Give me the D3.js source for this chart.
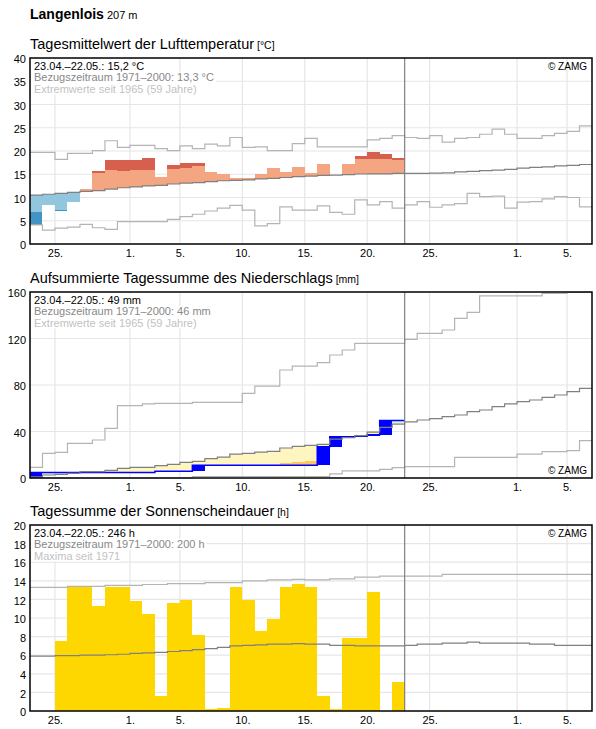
<!DOCTYPE html>
<html>
<head>
<meta charset="utf-8">
<script src="https://cdn.jsdelivr.net/npm/d3@7"></script>
<style>
  body { margin: 0; background: #fff; }
  svg { font-family: "Liberation Sans", Arial, sans-serif; }
</style>
</head>
<body>
<svg id="chart" width="596" height="729"></svg>
<script>
// ---------- data ----------
// 45 days shown (23.04. - 06.06.2024), observed values until 22.05. (30 days)
const startDate = new Date(Date.UTC(2024, 3, 23))
const nDays = 45
const xTickDates = ["2024-04-25", "2024-05-01", "2024-05-05", "2024-05-10", "2024-05-15",
                    "2024-05-20", "2024-05-25", "2024-06-01", "2024-06-05"]
const xTickLabels = ["25.", "1.", "5.", "10.", "15.", "20.", "25.", "1.", "5."]

// temperature [°C]
const tempTicks = [0, 5, 10, 15, 20, 25, 30, 35, 40]
const tempObs = [4.1, 8.4, 7.2, 9.1, 11.8, 15.6, 18.1, 18.1, 18.1, 18.6, 14.5, 17.0, 17.4, 17.4, 15.4,
                 15.05, 14.3, 14.3, 15.05, 16.3, 15.5, 16.6, 15.3, 17.2, 14.8, 17.3, 18.9, 19.8, 19.4, 18.6]
const tempHigh = [14.0, 14.2, 14.4, 14.6, 14.8, 15.3, 15.9, 15.8, 15.9, 15.9, 16.0, 16.1, 16.4, 16.7, 16.8,
                  17.0, 17.1, 17.2, 17.4, 17.5, 17.7, 17.9, 18.0, 18.1, 18.1, 18.2, 18.2, 18.2, 18.2, 18.1]
const tempLow = [6.95, 7.1, 7.3, 7.5, 7.7, 7.9, 8.1, 8.4, 8.6, 8.8, 9.0, 9.2, 9.4, 9.5, 9.7,
                 9.8, 9.9, 10.0, 10.2, 10.3, 10.5, 10.7, 10.8, 10.9, 11.0, 11.1, 11.2, 11.3, 11.3, 11.4]
const tempMean = [10.5, 10.7, 10.9, 11.1, 11.3, 11.5, 11.8, 12.1, 12.3, 12.5, 12.6, 12.9, 13.1, 13.2, 13.4,
                  13.6, 13.7, 13.8, 14.0, 14.1, 14.3, 14.5, 14.6, 14.75, 14.8, 14.9, 15.05, 15.1, 15.1, 15.2,
                  15.2, 15.2, 15.25, 15.3, 15.5, 15.6, 15.8, 15.9, 16.05, 16.3, 16.5, 16.6, 16.8, 16.9, 17.1]
const tempMax = [19.7, 19.7, 18.2, 19.5, 19.5, 20.1, 22.2, 20.8, 21.2, 21.2, 20.5, 20.1, 21.1, 20.5, 21.5,
                 21.1, 22.9, 20.8, 20.9, 20.1, 20.1, 21.6, 22.7, 20.9, 20.9, 20.9, 20.9, 22.4, 22.7, 23.3,
                 22.9, 22.7, 23.3, 21.9, 22.7, 22.9, 23.6, 24.7, 23.6, 22.7, 22.7, 23.3, 23.8, 24.2, 25.4]
const tempMin = [4.1, 3.0, 3.4, 3.65, 4.2, 3.5, 3.15, 4.8, 4.8, 4.8, 4.8, 5.3, 5.9, 6.4, 7.1,
                 7.7, 8.3, 7.3, 3.9, 4.4, 8.0, 7.3, 7.3, 8.2, 6.8, 6.4, 9.5, 8.4, 9.1, 7.7,
                 8.4, 9.1, 7.9, 8.4, 8.7, 10.9, 10.2, 10.3, 7.7, 9.0, 9.1, 9.7, 10.2, 10.0, 8.0]

// precipitation [mm], daily sums; reference values are cumulative
const precTicks = [0, 40, 80, 120, 160]
const precDaily = [4.8, 0, 0, 0, 0, 0, 0, 0, 0, 0, 1.0, 0, 0, 5.2, 0,
                   0, 0, 0, 0, 0, 0, 0, 0, 15.9, 8.5, 0, 0.6, 1.2, 12.2, 0]
const precDry = [0.3, 1.0, 1.3, 1.6, 2.0, 2.3, 2.8, 3.4, 3.8, 4.0, 4.5, 5.0, 5.6, 6.2, 7.0,
                 7.8, 8.6, 9.3, 10.2, 10.8, 13.2, 14.0, 14.9, 15.6, 17.5, 18.6, 19.8, 21.2, 23.8, 25.5]
const precMean = [0.9, 2.6, 3.2, 4.0, 5.4, 5.4, 6.6, 8.3, 9.2, 9.2, 10.6, 11.8, 13.5, 14.3, 16.6,
                  18.0, 20.5, 21.2, 22.2, 22.9, 25.8, 27.2, 28.0, 29.0, 33.4, 34.7, 36.4, 39.5, 43.5, 46.4,
                  48.3, 49.9, 51.0, 52.8, 54.2, 57.1, 58.5, 61.4, 63.7, 65.7, 67.1, 69.4, 71.4, 74.3, 77.1]
const precMax = [9.2, 21.2, 22.1, 29.8, 29.8, 32.7, 42.7, 62.2, 62.2, 63.7, 64.2, 64.2, 64.2, 65.1, 65.1,
                 65.1, 65.1, 72.8, 79.1, 79.1, 92.9, 96.3, 96.3, 99.2, 105.8, 110.1, 115.8, 115.8, 115.8, 115.8,
                 119.3, 124.4, 124.4, 127.3, 137.3, 142.5, 156.6, 156.6, 156.6, 156.6, 156.6, 158.9, 158.9, 159.7, 159.7]
const precMin = [0, 0, 0, 0, 0, 0, 0, 0, 0, 0, 0, 0, 0, 1.1, 1.1,
                 1.1, 1.1, 1.1, 1.1, 1.1, 1.1, 1.1, 1.1, 1.1, 3.5, 6.2, 6.2, 6.2, 7.5, 9.0,
                 9.7, 9.7, 9.7, 9.7, 17.8, 17.8, 17.8, 17.8, 17.8, 20.6, 20.6, 22.7, 22.7, 23.5, 32.1]

// sunshine duration [h]
const sunTicks = [0, 2, 4, 6, 8, 10, 12, 14, 16, 18, 20]
const sunObs = [0, 0, 7.5, 13.4, 13.4, 11.3, 13.3, 13.3, 11.8, 10.4, 1.6, 11.6, 11.9, 8.2, 0.2,
                0.3, 13.3, 11.9, 8.6, 9.9, 13.3, 13.7, 13.3, 1.6, 0.2, 7.9, 7.9, 12.8, 0, 3.1]
const sunMean = [5.9, 5.9, 5.95, 5.95, 6.0, 6.0, 6.05, 6.1, 6.2, 6.25, 6.3, 6.4, 6.5, 6.6, 6.7,
                 6.85, 7.0, 7.05, 7.1, 7.2, 7.2, 7.25, 7.2, 7.2, 7.05, 7.05, 7.0, 7.0, 7.0, 7.0,
                 7.05, 7.2, 7.2, 7.3, 7.3, 7.4, 7.3, 7.3, 7.3, 7.3, 7.2, 7.2, 7.05, 7.05, 7.05]
const sunMax = [13.3, 13.3, 13.3, 13.4, 13.4, 13.4, 13.5, 13.5, 13.5, 13.6, 13.6, 13.7, 13.7, 13.7, 13.8,
                13.8, 13.8, 14.0, 14.0, 14.1, 14.1, 14.15, 14.1, 14.1, 14.2, 14.2, 14.4, 14.4, 14.5, 14.5,
                14.5, 14.5, 14.5, 14.7, 14.7, 14.7, 14.7, 14.7, 14.7, 14.7, 14.7, 14.7, 14.7, 14.7, 14.7]

const tempInfo = ["23.04.\u201322.05.: 15,2 °C", "Bezugszeitraum 1971\u20132000: 13,3 °C", "Extremwerte seit 1965 (59 Jahre)"]
const precInfo = ["23.04.\u201322.05.: 49 mm", "Bezugszeitraum 1971\u20132000: 46 mm", "Extremwerte seit 1965 (59 Jahre)"]
const sunInfo = ["23.04.\u201322.05.: 246 h", "Bezugszeitraum 1971\u20132000: 200 h", "Maxima seit 1971"]

// ---------- layout ----------
const L = 30, R = 592, H = 186
const infoColors = ["#000", "#888", "#c2c2c2"]
const cMean = "#808080", cExt = "#b4b4b4"

const svg = d3.select("#chart")
const day = i => d3.utcDay.offset(startDate, i)
const x = d3.scaleUtc().domain([startDate, day(nDays)]).range([L, R])
const xTicks = xTickDates.map(d => new Date(d))

// step line over whole days
function stepPath(values, y) {
    let pts = values.map((v, i) => [x(day(i)), y(v)])
    pts.push([x(day(values.length)), y(values[values.length - 1])])
    return d3.line().curve(d3.curveStepAfter)(pts)
}

function dayRect(sel, y) {
    sel.attr("x", d => x(day(d.i)))
        .attr("width", d => x(day(d.i + 1)) - x(day(d.i)))
        .attr("y", d => y(Math.max(d.a, d.b)))
        .attr("height", d => Math.abs(y(d.a) - y(d.b)))
        .attr("fill", d => d.c)
        .attr("shape-rendering", "crispEdges")
}

function makePanel(top, max, ticks, title, unit, info, zamgBottom) {
    let y = d3.scaleLinear().domain([0, max]).range([top + H, top])
    let g = svg.append("g")

    g.append("text")
        .attr("x", L).attr("y", top - 9.5)
        .attr("font-size", 14.5)
        .text(title)
      .append("tspan")
        .attr("font-size", 10.5)
        .text(" " + unit)

    // grid
    let grid = g.append("g").attr("stroke", "#e6e6e6").attr("stroke-width", 1.2)
    grid.selectAll(".h").data(ticks.slice(1, -1)).join("line")
        .attr("x1", L).attr("x2", R)
        .attr("y1", d => y(d)).attr("y2", d => y(d))
    grid.selectAll(".v").data(xTicks).join("line")
        .attr("x1", d => x(d)).attr("x2", d => x(d))
        .attr("y1", top).attr("y2", top + H)

    // white boxes behind the info text
    let bg = g.append("g")
    let data = g.append("g")
    let txt = g.append("g").attr("font-size", 11)
    info.forEach((s, k) => {
        let t = txt.append("text")
            .attr("x", L + 4).attr("y", top + 11.5 + k * 11.5)
            .attr("fill", infoColors[k])
            .text(s)
        let w = t.node().getComputedTextLength()
        bg.append("rect")
            .attr("x", L + 1).attr("y", top + 2 + k * 11.5)
            .attr("width", w + 5).attr("height", 11.5)
            .attr("fill", "#fff")
    })
    txt.append("text")
        .attr("x", R - 5).attr("y", zamgBottom ? top + H - 4 : top + 11.5)
        .attr("text-anchor", "end")
        .attr("font-size", 10)
        .text("\u00a9 ZAMG")

    // axes
    g.append("g")
        .attr("transform", `translate(${L},0)`)
        .call(d3.axisLeft(y).tickValues(ticks).tickSize(0).tickPadding(4))
        .call(a => a.select(".domain").remove())
        .attr("font-size", 11).attr("font-family", null)
        .call(a => a.selectAll("text").attr("fill", "#000").attr("dy", "0.42em"))
    g.append("g")
        .attr("transform", `translate(0,${top + H})`)
        .call(d3.axisBottom(x).tickValues(xTicks).tickFormat((d, i) => xTickLabels[i]).tickSize(0).tickPadding(5))
        .call(a => a.select(".domain").remove())
        .attr("font-size", 11).attr("font-family", null)
        .call(a => a.selectAll("text").attr("fill", "#000"))

    return { g, y, data, top }
}

function addLine(p, values, color, width) {
    p.data.append("path")
        .attr("d", stepPath(values, p.y))
        .attr("fill", "none")
        .attr("stroke", color)
        .attr("stroke-width", width)
}

function finishPanel(p) {
    // end of observation period
    p.g.append("line")
        .attr("x1", x(day(tempObs.length))).attr("x2", x(day(tempObs.length)))
        .attr("y1", p.top).attr("y2", p.top + H)
        .attr("stroke", "#808080").attr("stroke-width", 1.2)
    p.g.append("rect")
        .attr("x", L).attr("y", p.top).attr("width", R - L).attr("height", H)
        .attr("fill", "none").attr("stroke", "#000").attr("stroke-width", 1.5)
}

// ---------- title ----------
svg.append("text")
    .attr("x", L).attr("y", 18.5)
    .attr("font-size", 14).attr("font-weight", "bold")
    .text("Langenlois")
  .append("tspan")
    .attr("font-size", 11).attr("font-weight", "normal")
    .text(" 207 m")

// ---------- temperature ----------
function makeTempChart() {
    let p = makePanel(58, 40, tempTicks, "Tagesmittelwert der Lufttemperatur", "[°C]", tempInfo, false)
    let segs = []
    tempObs.forEach((o, i) => {
        let m = tempMean[i]
        if (o >= m) {
            segs.push({ i, a: m, b: Math.min(o, tempHigh[i]), c: "#f4a582" })
            if (o > tempHigh[i]) segs.push({ i, a: tempHigh[i], b: o, c: "#d6604d" })
        } else {
            segs.push({ i, a: m, b: Math.max(o, tempLow[i]), c: "#92c5de" })
            if (o < tempLow[i]) segs.push({ i, a: tempLow[i], b: o, c: "#4393c3" })
        }
    })
    p.data.selectAll("rect").data(segs).join("rect").call(dayRect, p.y)
    addLine(p, tempMax, cExt, 1.2)
    addLine(p, tempMin, cExt, 1.2)
    addLine(p, tempMean, cMean, 1.2)
    finishPanel(p)
}

// ---------- precipitation ----------
function makePrecChart() {
    let p = makePanel(292, 160, precTicks, "Aufsummierte Tagessumme des Niederschlags", "[mm]", precInfo, true)
    let cum = Array.from(d3.cumsum(precDaily))
    let segs = []
    cum.forEach((c, i) => {
        let m = precMean[i]
        segs.push({ i, a: c, b: m, c: c < m ? "#fff5c0" : "#dcf0e0" })
        if (c < precDry[i]) segs.push({ i, a: c, b: Math.min(precDry[i], m), c: "#fdc65e" })
        if (precDaily[i] > 0) segs.push({ i, a: c - precDaily[i], b: c, c: "#0000ff" })
    })
    p.data.selectAll("rect").data(segs).join("rect").call(dayRect, p.y)
    addLine(p, precMax, cExt, 1.2)
    addLine(p, precMin, cExt, 1.2)
    addLine(p, cum, "#0000ff", 1.5)
    addLine(p, precMean, cMean, 1.2)
    finishPanel(p)
}

// ---------- sunshine ----------
function makeSunChart() {
    let p = makePanel(525, 20, sunTicks, "Tagessumme der Sonnenscheindauer", "[h]", sunInfo, false)
    let bars = sunObs.map((v, i) => ({ i, a: 0, b: v, c: "#ffd700" }))
    p.data.selectAll("rect").data(bars).join("rect").call(dayRect, p.y)
    addLine(p, sunMax, cExt, 1.2)
    addLine(p, sunMean, cMean, 1.2)
    finishPanel(p)
}

makeTempChart()
makePrecChart()
makeSunChart()
</script>
</body>
</html>
